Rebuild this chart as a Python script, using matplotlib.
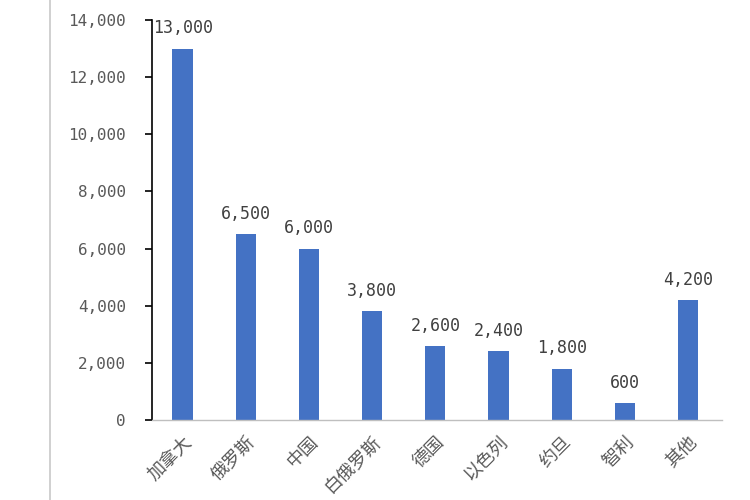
import matplotlib.pyplot as plt
from matplotlib.lines import Line2D
from matplotlib.ticker import FuncFormatter

categories = ["加拿大", "俄罗斯", "中国", "白俄罗斯", "德国", "以色列", "约旦", "智利", "其他"]
values = [13000, 6500, 6000, 3800, 2600, 2400, 1800, 600, 4200]
y_ticks = [0, 2000, 4000, 6000, 8000, 10000, 12000, 14000]

BAR = "#4472C4"
TXT = "#595959"
NUM_FONT = ["DejaVu Sans Mono", "DejaVu Sans"]
CJK_FONT = ["Noto Sans CJK SC", "DejaVu Sans"]

fig = plt.figure(figsize=(7.5, 5), dpi=100)
ax = fig.add_axes([0.203, 0.16, 0.76, 0.80])

x = list(range(len(categories)))
ax.bar(x, values, width=0.32, color=BAR, zorder=2)
for xi, v in zip(x, values):
    ax.annotate(f"{v:,}", (xi, v), xytext=(0, 8), textcoords="offset points",
                ha="center", va="bottom", fontsize=12, color="#404040", family=NUM_FONT)

ax.set_xlim(-0.48, 8.54)
ax.set_ylim(0, 14000)
ax.set_yticks(y_ticks)
ax.yaxis.set_major_formatter(FuncFormatter(lambda v, p: f"{int(v):,}"))
for lab in ax.get_yticklabels():
    lab.set_family(NUM_FONT)
ax.tick_params(axis="y", direction="out", length=5, width=1.2, color="black",
               labelsize=11.5, labelcolor=TXT, pad=14)

ax.set_xticks(x)
ax.set_xticklabels(categories, rotation=45, ha="right", rotation_mode="anchor",
                   family=CJK_FONT, fontsize=13, color=TXT)
ax.tick_params(axis="x", length=0, pad=9)

for s in ["top", "right"]:
    ax.spines[s].set_visible(False)
ax.spines["left"].set_color("black")
ax.spines["left"].set_linewidth(1.2)
ax.spines["bottom"].set_color("#BFBFBF")
ax.spines["bottom"].set_linewidth(1.0)

fig.add_artist(Line2D([0.067, 0.067], [0, 1], color="#C8C8C8", lw=1.2, transform=fig.transFigure))

fig.savefig("out.png", dpi=100)
